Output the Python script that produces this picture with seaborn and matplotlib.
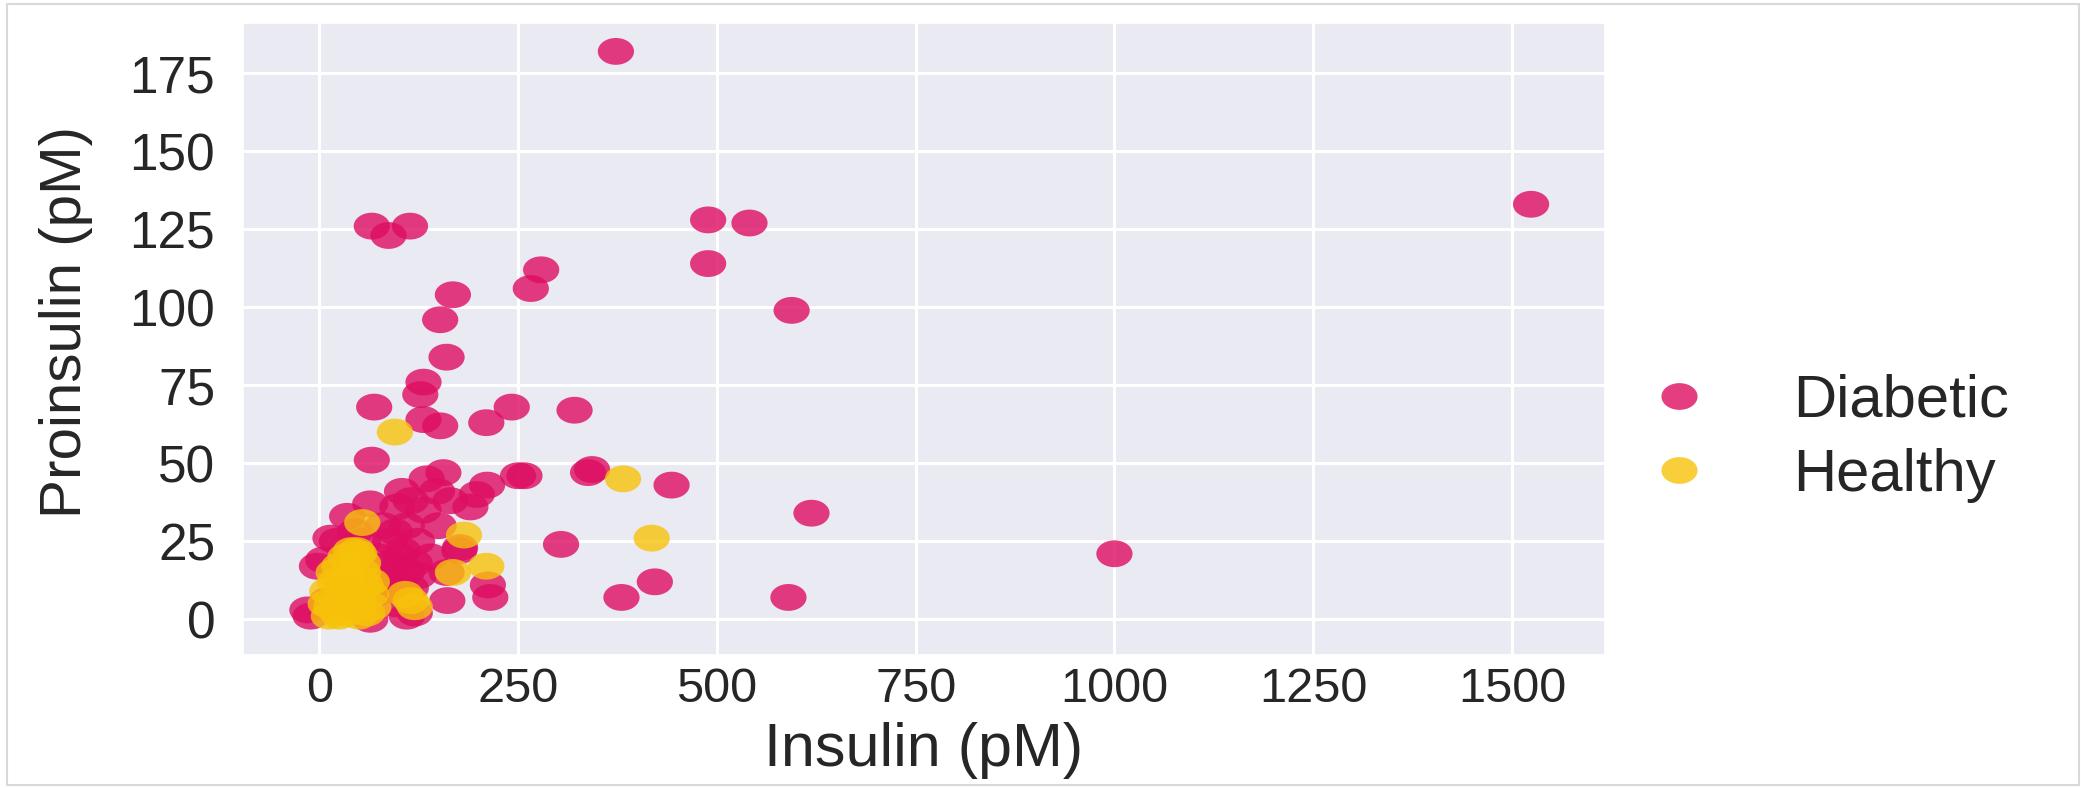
import numpy as np
import pandas as pd
import matplotlib
matplotlib.use("Agg")
import matplotlib.pyplot as plt
from matplotlib.path import Path
from matplotlib.lines import Line2D
from matplotlib.patches import Rectangle
import seaborn as sns

# ---------------- data ----------------
groups = ["Diabetic", "Healthy"]
group_colors = ["#DE0D62", "#F8C20A"]

diabetic_insulin = [373, 1524, 66, 114, 87, 489, 541, 489, 279, 266, 168, 594, 152, 160,
                    131, 127, 69, 242, 321, 131, 152, 210, 66, 156, 250, 258, 338, 343,
                    443, 619, 304, 422, 380, 590, 1000, 161, 212, 215, 176,
                    104, 148, 165, 190, 211, 198, 131, 98, 64, 35, 22, 5, -3, 123, 89,
                    102, 110, 89, 177, -11, 64, 110, -15, 14, 80, 95, 110, 75, 90, 105,
                    120, 85, 100, 115, 125, 78, 95, 120, 70, 45, 55, 140, 150, 135, 115,
                    160, 30, 10, 40]
diabetic_proinsulin = [182, 133, 126, 126, 123, 128, 127, 114, 112, 106, 104, 99, 96, 84,
                       76, 72, 68, 68, 67, 64, 62, 63, 51, 47, 46, 46, 47, 48,
                       43, 34, 24, 12, 7, 7, 21, 6, 11, 7, 22,
                       41, 41, 38, 36, 43, 40, 35, 36, 37, 33, 25, 19, 17, 25, 25,
                       20, 15, 12, 23, 1, 0, 1, 3, 26, 30, 28, 30, 20, 18, 22,
                       18, 10, 12, 10, 14, 14, 5, 2, 8, 28, 25, 20, 30, 45, 38,
                       15, 10, 6, 4]

healthy_insulin = [95, 382, 418, 182, 168, 210, 54, 115, 120, 108,
                   47, 33, 50, 40, 25, 40, 55, 66, 20, 10, 30, 50, 65, 68, 8, 15, 35,
                   45, 60, 12, 25, 50, 40, 55, 18, 30, 20, 35, 58, 45]
healthy_proinsulin = [60, 45, 26, 27, 15, 17, 31, 6, 4, 8,
                      22, 20, 21, 22, 17, 16, 15, 12, 12, 9, 10, 9, 8, 4, 5, 4, 5,
                      3, 2, 1, 1, 1, 12, 18, 15, 7, 3, 2, 11, 6]

x_ticks = [0, 250, 500, 750, 1000, 1250, 1500]
y_ticks = [0, 25, 50, 75, 100, 125, 150, 175]
x_label = "Insulin (pM)"
y_label = "Proinsulin (pM)"

# ---------------- frame ----------------
df = pd.DataFrame({
    "Insulin": diabetic_insulin + healthy_insulin,
    "Proinsulin": diabetic_proinsulin + healthy_proinsulin,
    "Group": [groups[0]] * len(diabetic_insulin) + [groups[1]] * len(healthy_insulin),
})

sns.set_theme(style="darkgrid")
plt.rcParams["font.family"] = ["Liberation Sans", "DejaVu Sans"]
plt.rcParams["text.color"] = "#262626"
plt.rcParams["axes.labelcolor"] = "#262626"
plt.rcParams["xtick.color"] = "#262626"
plt.rcParams["ytick.color"] = "#262626"

W, H = 2084, 788
fig = plt.figure(figsize=(W / 100, H / 100), dpi=100)
ax = fig.add_axes([243 / W, 1 - 655 / H, (1605 - 243) / W, (655 - 23) / H])

# elliptical marker (the reference is stretched horizontally)
t = np.linspace(0, 2 * np.pi, 72)
ell = Path(np.column_stack([1.35 * np.cos(t), np.sin(t)]), closed=True)

palette = dict(zip(groups, group_colors))
sns.scatterplot(data=df, x="Insulin", y="Proinsulin", hue="Group", hue_order=groups,
                palette=palette, marker=ell, s=680, alpha=0.8, linewidth=0,
                edgecolor="none", legend=False, ax=ax)

ax.set_xlim(-96, 1617)
ax.set_ylim(-11.45, 191.1)
ax.set_xticks(x_ticks)
ax.set_yticks(y_ticks)
ax.grid(True, color="white", linewidth=2.2)
ax.tick_params(axis="x", labelsize=35, pad=3)
ax.tick_params(axis="y", labelsize=37, pad=14)
ax.set_xlabel(x_label, fontsize=44, labelpad=7)
ax.set_ylabel(y_label, fontsize=42)
ax.yaxis.set_label_coords(-0.110, 0.527)

handles = [Line2D([], [], marker=ell, linestyle="", markersize=26,
                  markerfacecolor=c, markeredgewidth=0, alpha=0.8) for c in group_colors]
fig.legend(handles, groups, loc="center left", bbox_to_anchor=(1595 / W, 1 - 438 / H),
           frameon=False, fontsize=43, handlelength=1.0, handletextpad=1.42,
           labelspacing=0.32, borderpad=0.4)

fig.patches.append(Rectangle((7 / W, 3 / H), (W - 12) / W, (H - 7) / H,
                             transform=fig.transFigure, fill=False,
                             edgecolor="#D9D9D9", linewidth=1.5))

fig.savefig("out.png", dpi=100)
